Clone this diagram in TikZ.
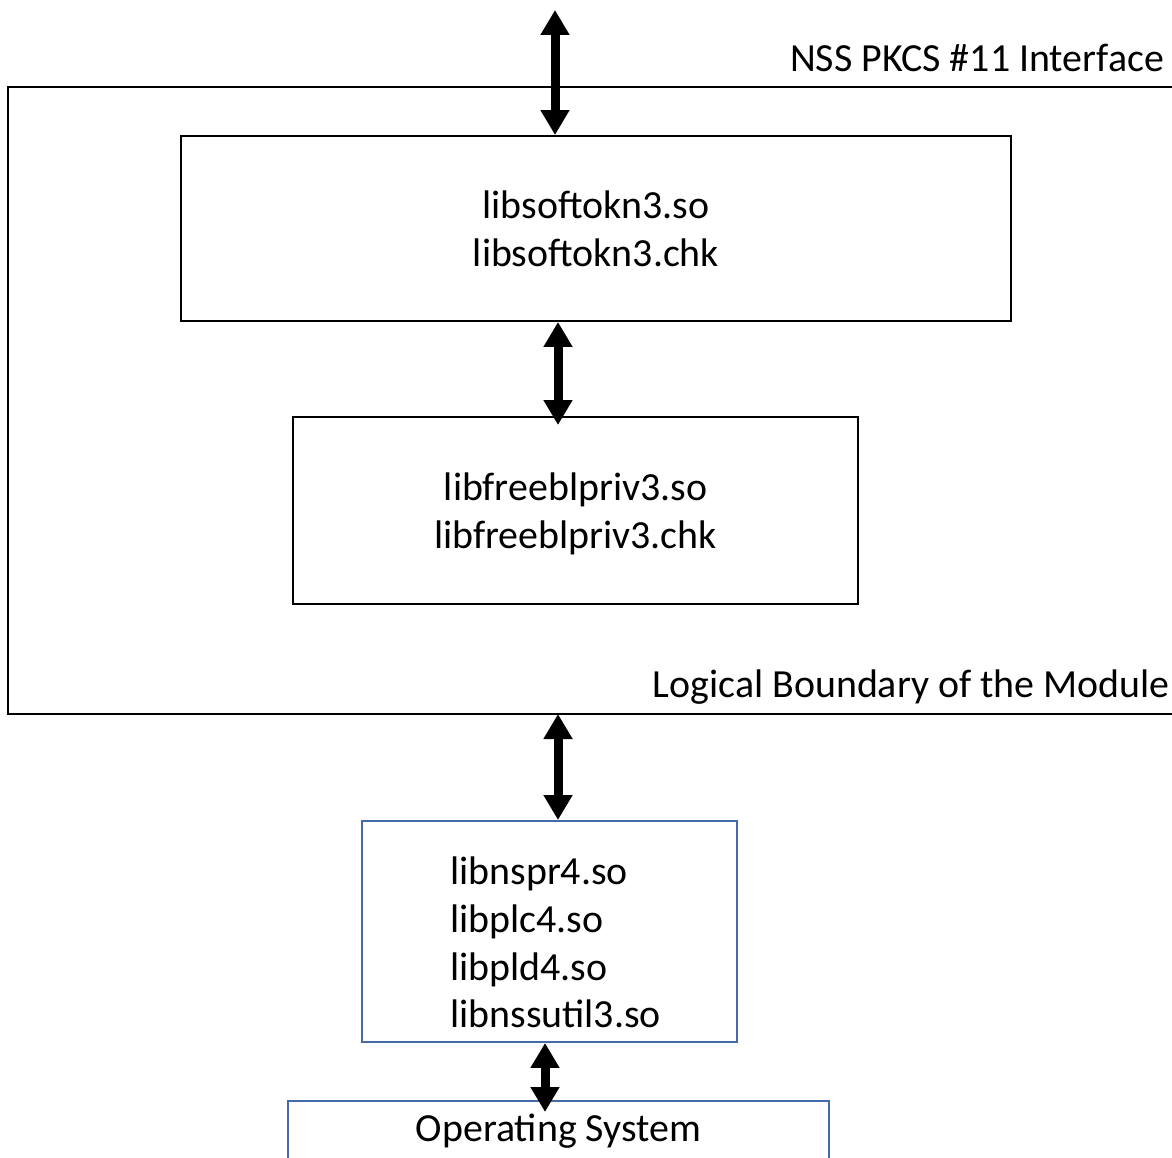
\documentclass[tikz,border=0pt]{standalone}
\usepackage{fontspec}
\setmainfont{Carlito}
\usetikzlibrary{arrows.meta}
\usetikzlibrary{positioning}
\definecolor{osblue}{RGB}{68,106,170}

\begin{document}
\begin{tikzpicture}[x=0.02cm,y=-0.02cm]
			\tikzstyle{every node}+=[font=\fontsize{22.7}{27.2}\selectfont]
			\tikzstyle{libbox}=[draw=black,line width=0.04cm,inner sep=0pt]
			\tikzstyle{sysbox}=[draw=osblue,line width=0.04cm,inner sep=0pt]
			\tikzstyle{dbl}=[line width=0.18cm,{Triangle[width=0.55cm,length=0.5cm]}-{Triangle[width=0.55cm,length=0.5cm]}]
			\useasboundingbox (0,0) rectangle (1172,1158);
			\clip (0,0) rectangle (1172,1158);
			\draw [black,line width=0.04cm] (1180,87) -- (8,87) -- (8,714) -- (1180,714);
			\node [anchor=base east] (iface) at (1170,72) {NSS PKCS \#11 Interface};
			\node [anchor=base east] (bndlabel) at (1176,697) {Logical Boundary of the Module};
			\coordinate (pkcs) at (555,10);
			\coordinate (bnd) at (558,714);
			\coordinate (osin) at (545,1112);
			\node [libbox,minimum width=16.6cm,minimum height=3.7cm,align=center] (soft) at (596,228.5) {libsoftokn3.so\\libsoftokn3.chk};
			\node [libbox,minimum width=11.3cm,minimum height=3.74cm] (freebl) at (575.5,510.5) {};
			\node [align=center] (freebltext) at (575.5,513.5) {libfreeblpriv3.so\\libfreeblpriv3.chk};
			\node [sysbox,minimum width=7.5cm,minimum height=4.42cm] (nspr) at (549.5,931.5) {};
			\node [align=left,anchor=west,inner sep=0pt] (nsprtext) at (450,942.5) {libnspr4.so\\libplc4.so\\libpld4.so\\libnssutil3.so};
			\node [sysbox,anchor=north,minimum width=10.82cm,text height=0.8cm,text depth=1.4cm] (os) at (558.5,1100) {Operating System};
			\draw [dbl] (pkcs) -- (pkcs |- soft.north);
			\draw [dbl,shorten >=-0.18cm] (soft.south -| bnd) -- (freebl.north -| bnd);
			\draw [dbl] (bnd) -- (nspr.north -| bnd);
			\draw [dbl] (nspr.south -| osin) -- (osin);
			\end{tikzpicture}
\end{document}
